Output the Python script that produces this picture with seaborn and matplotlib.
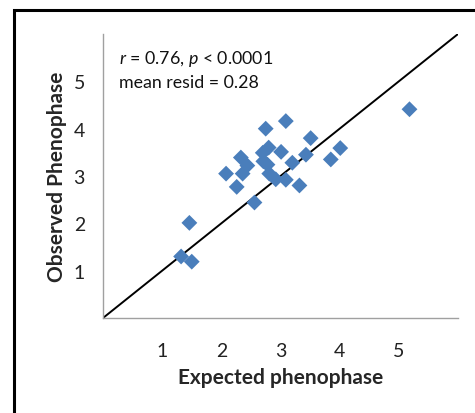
import matplotlib
matplotlib.use("Agg")
import matplotlib.pyplot as plt
import seaborn as sns
import pandas as pd
from matplotlib.patches import Rectangle

expected = [5.18, 3.09, 2.75, 3.51, 2.80, 4.01, 3.01, 2.70, 3.43, 2.33, 3.85,
            2.71, 3.20, 2.44, 2.78, 2.08, 2.36, 2.81, 2.92, 3.09, 2.26, 3.32,
            2.56, 1.46, 1.32, 1.50]
observed = [4.41, 4.16, 4.00, 3.80, 3.60, 3.59, 3.51, 3.49, 3.45, 3.39, 3.35,
            3.31, 3.28, 3.22, 3.24, 3.05, 3.05, 3.05, 2.93, 2.92, 2.77, 2.80,
            2.44, 2.01, 1.30, 1.19]
ticks = [0, 1, 2, 3, 4, 5, 6]
tick_labels = ["", "1", "2", "3", "4", "5", ""]
line_xy = [0, 6]

df = pd.DataFrame({"Expected": expected, "Observed": observed})

sns.set_theme(style="white")
plt.rcParams["font.family"] = ["Lato", "DejaVu Sans"]
plt.rcParams["mathtext.fontset"] = "custom"
plt.rcParams["mathtext.it"] = "Lato:italic"
plt.rcParams["mathtext.rm"] = "Lato"

fig = plt.figure(figsize=(4.75, 4.14), dpi=100)
ax = fig.add_axes([103/475, 1-319/414, (458-103)/475, (319-35)/414])

ax.plot(line_xy, line_xy, color="black", lw=1.4, zorder=1)
sns.scatterplot(data=df, x="Expected", y="Observed", ax=ax, marker="D",
                s=65, color="#4A7EBB", edgecolor="none", zorder=2)

ax.set_xlim(0, 6)
ax.set_ylim(0, 6)
ax.set_xticks(ticks)
ax.set_xticklabels(tick_labels)
ax.set_yticks(ticks)
ax.set_yticklabels(tick_labels)
for s in ["top", "right"]:
    ax.spines[s].set_visible(False)
for s in ["left", "bottom"]:
    ax.spines[s].set_color("#A0A0A0")
    ax.spines[s].set_linewidth(1)
ax.tick_params(axis="both", which="both", direction="out", length=6,
               width=1, color="#A0A0A0", labelsize=14, labelcolor="#222222")
ax.tick_params(axis="x", pad=11)
ax.tick_params(axis="y", pad=7)

ax.set_xlabel("Expected phenophase", fontsize=15, fontweight="bold", labelpad=6)
ax.set_ylabel("Observed Phenophase", fontsize=15, fontweight="bold", labelpad=5)

ax.text(0.045, 0.915, r"$r$ = 0.76, $p$ < 0.0001", transform=ax.transAxes,
        fontsize=12.8, color="#111111", va="center", ha="left")
ax.text(0.045, 0.83, "mean resid = 0.28", transform=ax.transAxes,
        fontsize=12.8, color="#111111", va="center", ha="left")

border = Rectangle((13.5/475, -0.1), 1.2, 1 - 10.5/414 + 0.1, transform=fig.transFigure,
                   fill=False, edgecolor="black", lw=2.2, clip_on=False)
fig.patches.append(border)

fig.savefig("out.png", dpi=100)
